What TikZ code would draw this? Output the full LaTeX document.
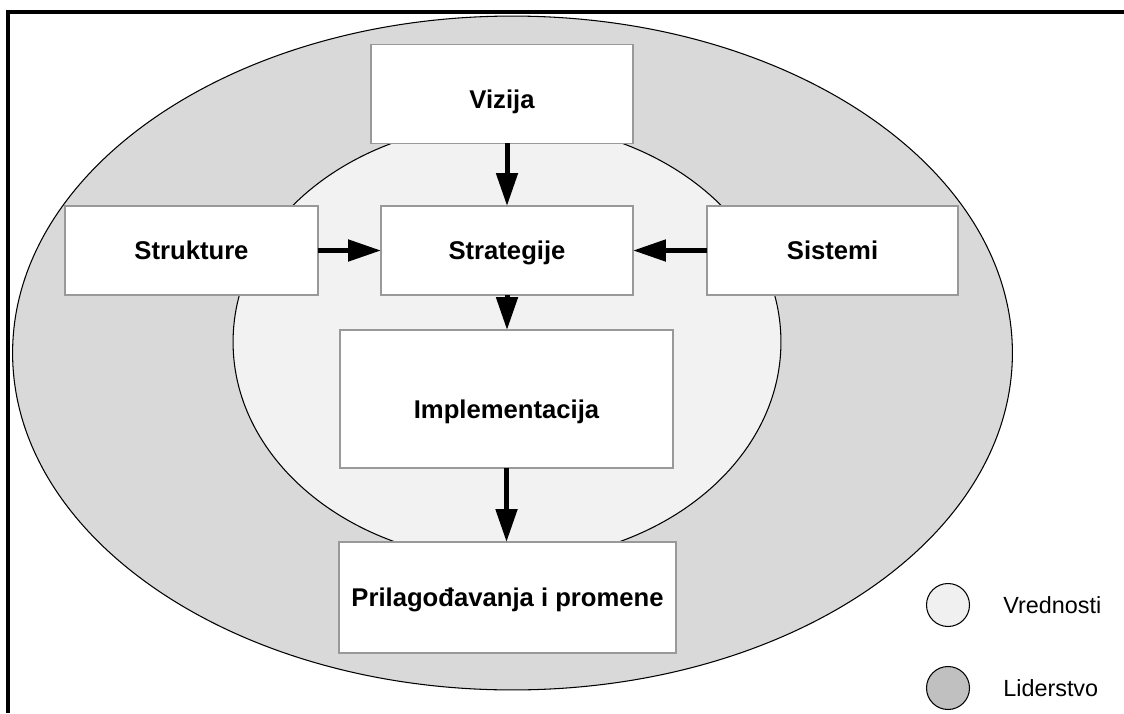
\documentclass[tikz,border=0pt]{standalone}
\usepackage{fontspec}
\setmainfont{Liberation Sans}
\usetikzlibrary{arrows.meta}
\definecolor{outerfill}{RGB}{217,217,217}
\definecolor{innerfill}{RGB}{242,242,242}
\definecolor{vredfill}{RGB}{240,240,240}
\definecolor{lidfill}{RGB}{192,192,192}
\definecolor{boxline}{RGB}{153,153,153}
\tikzset{
  ring/.style    = {draw=black, line width=0.6pt},
  blok/.style    = {rectangle, draw=boxline, fill=white, line width=0.8pt,
                    inner sep=0pt, outer sep=0pt, text height=10.5pt, text depth=0pt,
                    font=\fontsize{14.6}{17}\selectfont\bfseries},
  lowtext/.style = {text height=#1},
  flow/.style    = {-{Triangle[length=0.66cm,width=0.42cm]}, line width=0.1cm},
  legdot/.style  = {circle, draw=black, line width=0.6pt, minimum size=0.86cm,
                    inner sep=0pt},
  leglab/.style  = {anchor=west, inner sep=0pt,
                    font=\fontsize{13.3}{16}\selectfont},
}
\begin{document}
\begin{tikzpicture}[x=0.02cm, y=-0.02cm]
\useasboundingbox (0,0) rectangle (1124,713);
% frame and rings
\draw[line width=0.08cm] (8,713) -- (8,12) -- (1124,12);
\draw[ring, fill=outerfill] (512.5,353) ellipse [x radius=10cm, y radius=6.74cm];
\draw[ring, fill=innerfill] (507,342) ellipse [x radius=5.48cm, y radius=4.38cm];
% boxes
\node[blok, lowtext=16.2pt, minimum width=5.24cm, minimum height=1.98cm] (vizija) at (502,94) {Vizija};
\node[blok, minimum width=5.06cm, minimum height=1.78cm] (strukture) at (191.5,250.5) {Strukture};
\node[blok, minimum width=5.04cm, minimum height=1.78cm] (strategije) at (507,250.5) {Strategije};
\node[blok, minimum width=5.02cm, minimum height=1.78cm] (sistemi) at (832.5,250.5) {Sistemi};
\node[blok, lowtext=21.9pt, minimum width=6.66cm, minimum height=2.76cm] (impl) at (506.5,399) {Implementacija};
\node[blok, minimum width=6.74cm, minimum height=2.22cm] (prilag) at (507.5,597.5) {Prilagođavanja i promene};
% arrows
\draw[flow] (vizija.south -| strategije.north) -- (strategije.north);
\draw[flow] (strukture) -- (strategije);
\draw[flow] (sistemi) -- (strategije);
\draw[flow] (strategije.south) -- (strategije.south |- impl.north);
\draw[flow] (impl.south) -- (impl.south |- prilag.north);
% legend
\node[legdot, fill=vredfill] (vred) at (948,605) {};
\node[legdot, fill=lidfill] (lid) at (948,688) {};
\node[leglab] (vredlab) at (1003,605) {Vrednosti};
\node[leglab] (lidlab) at (1003,688) {Liderstvo};
\end{tikzpicture}
\end{document}
